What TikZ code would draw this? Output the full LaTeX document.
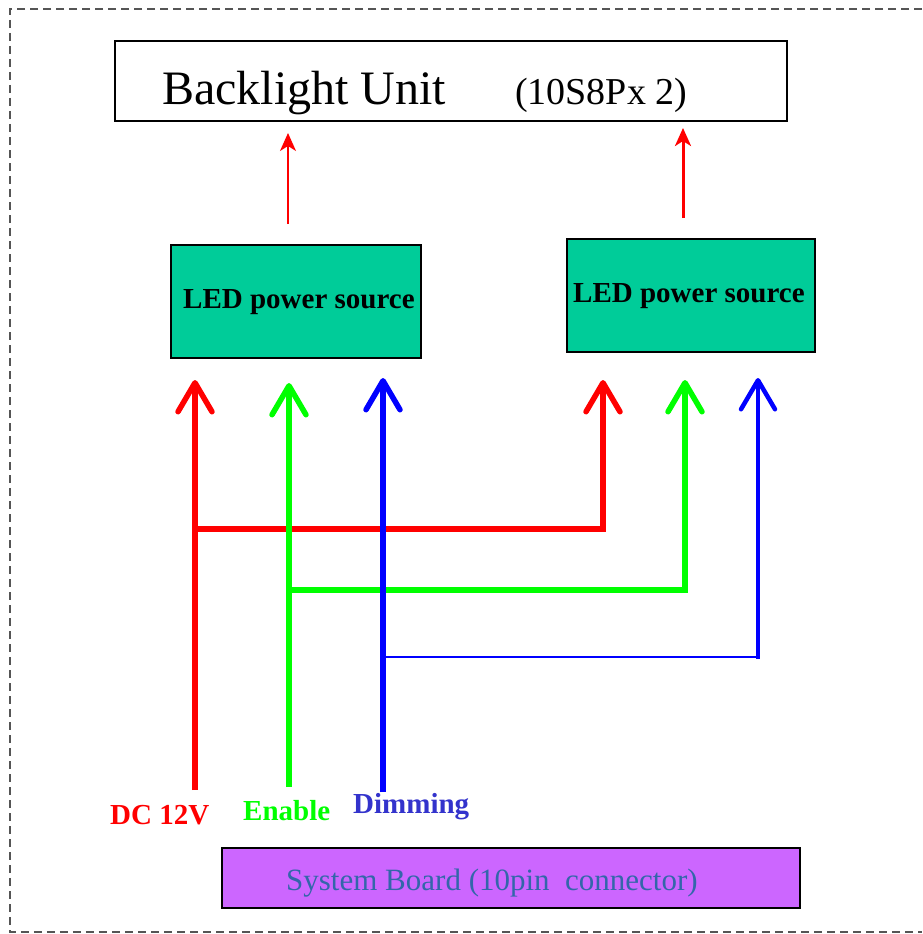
\documentclass[tikz,border=0pt]{standalone}
\usepackage{fontspec}
\setmainfont{Liberation Serif}
\usetikzlibrary{arrows.meta}
\definecolor{ledgreen}{HTML}{00CC99}
\definecolor{sysviolet}{HTML}{CC66FF}
\definecolor{systext}{HTML}{3366AA}
\definecolor{sigred}{HTML}{FF0000}
\definecolor{siggreen}{HTML}{00FF00}
\definecolor{sigblue}{HTML}{0000FF}
\definecolor{dimtext}{HTML}{3333CC}
\definecolor{framegray}{HTML}{555555}
\tikzset{
  box/.style={draw=black, line width=1.2pt, inner sep=0pt, outer sep=0pt},
  ledbox/.style={box, fill=ledgreen, minimum width=250pt, minimum height=113pt},
  ledtext/.style={anchor=base west, inner sep=0pt, font=\fontsize{29pt}{31pt}\selectfont\bfseries},
  barb/.style={-{Straight Barb[length=29pt,width=34pt,round]}},
  sig/.style={line width=5.5pt, barb},
  thinarrow/.style={-{Stealth[length=18pt,width=16pt,inset=5pt]}},
  lbl/.style={font=\fontsize{29pt}{31pt}\selectfont\bfseries, inner sep=0pt}
}
\begin{document}
\begin{tikzpicture}[x=1pt,y=-1pt]
\useasboundingbox (0,0) rectangle (922,934);
% dashed frame
\draw[framegray, line width=1.6pt, dash pattern=on 8pt off 5pt]
  (922,9) -- (10,9) -- (10,932) -- (922,932);

% backlight unit
\node[box, minimum width=672pt, minimum height=80pt, anchor=north west] (blu) at (115,41) {};
\node[anchor=base west, inner sep=0pt, font=\fontsize{48pt}{50pt}\selectfont] (blut) at (162,104) {Backlight Unit};
\node[anchor=base west, inner sep=0pt, font=\fontsize{38pt}{40pt}\selectfont] (blux) at (515,104) {(10S8Px 2)};

% LED power sources
\node[ledbox, anchor=north west] (led1) at (171,245) {};
\node[ledtext] (led1t) at (183,308) {LED power source};
\node[ledbox, minimum width=248pt, anchor=north west] (led2) at (567,239) {};
\node[ledtext] (led2t) at (573,302) {LED power source};

% thin arrows to backlight
\coordinate (t1s) at (288,224);
\coordinate (t1e) at (288,133);
\coordinate (t2s) at (683,218);
\coordinate (t2e) at (683,128);
\draw[sigred, line width=1.6pt, thinarrow] (t1s) -- (t1e);
\draw[sigred, line width=3pt, thinarrow] (t2s) -- (t2e);

% signal coordinates
\coordinate (r0) at (195,790);
\coordinate (r1) at (195,380);
\coordinate (rj) at (195,529);
\coordinate (rk) at (603,529);
\coordinate (r2) at (603,380);
\coordinate (g0) at (289,787);
\coordinate (g1) at (289,383);
\coordinate (gj) at (289,590);
\coordinate (gk) at (685,590);
\coordinate (g2) at (685,380);
\coordinate (b0) at (383,792);
\coordinate (b1) at (383,378);
\coordinate (bj) at (383,657);
\coordinate (bk) at (758,657);
\coordinate (b2) at (758,378);

% buses
\draw[sigred, sig, line join=miter] (rj) -- (rk) -- (r2);
\draw[siggreen, sig, line join=miter] (gj) -- (gk) -- (g2);
\draw[sigblue, line width=2pt, line cap=rect] (bj) -- (bk);
\draw[sigblue, line width=4.5pt, line cap=rect, barb] (bk) -- (b2);
% main verticals
\draw[sigred, sig] (r0) -- (r1);
\draw[siggreen, sig] (g0) -- (g1);
\draw[sigblue, sig] (b0) -- (b1);

% labels
\node[lbl, text=sigred, anchor=base west] (ldc) at (110,824) {DC 12V};
\node[lbl, text=siggreen, anchor=base west] (len) at (243,820) {Enable};
\node[lbl, text=dimtext, anchor=base west] (ldim) at (353,813) {Dimming};

% system board
\node[box, fill=sysviolet, minimum width=578pt, minimum height=60pt, anchor=north west] (sys) at (222,848) {};
\node[anchor=base west, inner sep=0pt, text=systext, font=\fontsize{31pt}{33pt}\selectfont] (syst) at (286,890) {System Board (10pin\ \ connector)};
\end{tikzpicture}
\end{document}
